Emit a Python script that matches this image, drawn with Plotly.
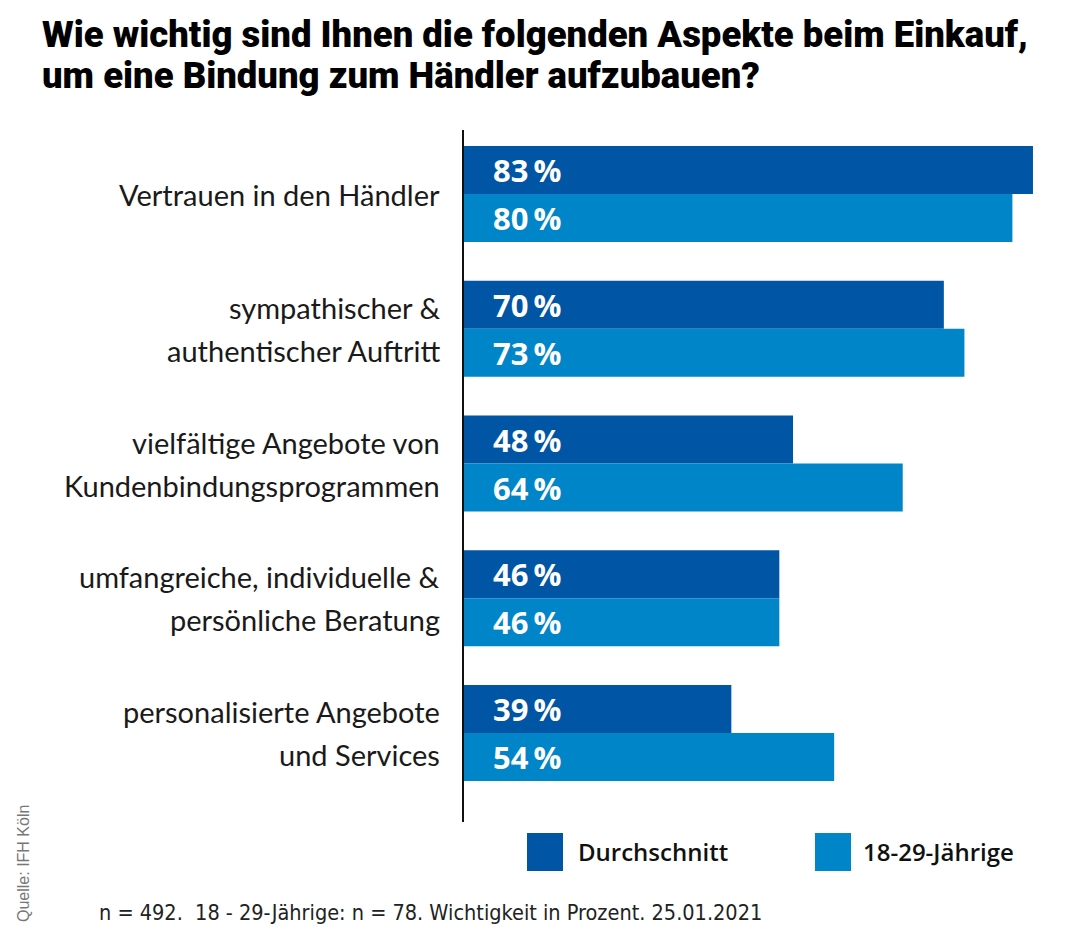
import plotly.graph_objects as go

# ---- data ----
categories = [
    "Vertrauen in den Händler",
    "sympathischer &\nauthentischer Auftritt",
    "vielfältige Angebote von\nKundenbindungsprogrammen",
    "umfangreiche, individuelle &\npersönliche Beratung",
    "personalisierte Angebote\nund Services",
]
durchschnitt = [83, 70, 48, 46, 39]
jaehrige_18_29 = [80, 73, 64, 46, 54]
series_names = ["Durchschnitt", "18-29-Jährige"]

title_lines = ["Wie wichtig sind Ihnen die folgenden Aspekte beim Einkauf,",
               "um eine Bindung zum Händler aufzubauen?"]
footnote = "n = 492.  18 - 29-Jährige: n = 78. Wichtigkeit in Prozent. 25.01.2021"
source = "Quelle: IFH Köln"

# ---- style ----
OFF = 8  # default page body margin
W, H = 1080 - 2 * OFF, 935 - 2 * OFF
# plot area in reference pixel coords: x 464..1064, y 130..822
ML = 464 - OFF
MT = 130 - OFF
MR = W - (1064 - OFF)
MB = H - (822 - OFF)
DARK = "#0055A4"
LIGHT = "#0085C8"
LABEL_FONT = "Lato, Roboto, sans-serif"
VALUE_FONT = "Open Sans, Noto Sans, sans-serif"
TITLE_FONT = "Roboto, sans-serif"
NOTE_FONT = "Liberation Sans Narrow, DejaVu Sans Condensed, Roboto, sans-serif"

pw, ph = W - ML - MR, H - MT - MB
def px_x(rx):
    return (rx - OFF - ML) / pw
def px_y(ry):
    return (H - MB - (ry - OFF)) / ph

ypos = list(range(len(categories)))

fig = go.Figure()
fig.add_trace(go.Bar(y=ypos, x=durchschnitt, orientation="h", name=series_names[0],
                     marker=dict(color=DARK, line=dict(width=0)), hoverinfo="skip"))
fig.add_trace(go.Bar(y=ypos, x=jaehrige_18_29, orientation="h", name=series_names[1],
                     marker=dict(color=LIGHT, line=dict(width=0)), hoverinfo="skip"))

annotations = []
# title (two lines, explicit spacing)
for line, ry in zip(title_lines, (34, 75)):
    annotations.append(dict(x=px_x(40), y=px_y(ry), xref="paper", yref="paper", text=line,
                            showarrow=False, xanchor="left", yanchor="middle", align="left",
                            font=dict(family=TITLE_FONT, size=36.5, color="black", weight=900)))
# category labels
for i, cat in enumerate(categories):
    lines = cat.split("\n")
    n = len(lines)
    for k, line in enumerate(lines):
        shift = (n - 1) / 2 * 43 - k * 43
        annotations.append(dict(x=0, y=i, xref="x", yref="y", text=line, showarrow=False,
                                xanchor="right", yanchor="middle", xshift=-22, yshift=shift,
                                font=dict(family=LABEL_FONT, size=29, color="#1a1a1a")))
# value labels
for i in ypos:
    for val, sh in ((durchschnitt[i], 24), (jaehrige_18_29[i], -24)):
        annotations.append(dict(x=0, y=i, xref="x", yref="y", text=f"{val}\u2009%",
                                showarrow=False, xanchor="left", yanchor="middle",
                                xshift=27, yshift=sh,
                                font=dict(family=VALUE_FONT, size=31, color="white", weight="bold")))

# legend
shapes = []
for name, color, sx, tx in ((series_names[0], DARK, 527, 576), (series_names[1], LIGHT, 815, 861)):
    shapes.append(dict(type="rect", xref="paper", yref="paper",
                       x0=px_x(sx), x1=px_x(sx + 36),
                       y0=px_y(871), y1=px_y(833),
                       fillcolor=color, line=dict(width=0)))
    annotations.append(dict(x=px_x(tx), y=px_y(851), xref="paper", yref="paper",
                            text=name, showarrow=False, xanchor="left", yanchor="middle",
                            font=dict(family=VALUE_FONT, size=24, color="#111111", weight=600)))

# footnote and source
annotations.append(dict(x=px_x(97), y=px_y(912), xref="paper", yref="paper",
                        text=footnote, showarrow=False, xanchor="left", yanchor="middle",
                        font=dict(family=NOTE_FONT, size=21.5, color="#222222")))
annotations.append(dict(x=px_x(23), y=px_y(864), xref="paper", yref="paper",
                        text=source, showarrow=False, xanchor="center", yanchor="middle",
                        textangle=-90,
                        font=dict(family="Liberation Sans, Arial, sans-serif", size=16, color="#777777")))

fig.update_layout(
    width=W, height=H,
    margin=dict(l=ML, r=MR, t=MT, b=MB),
    paper_bgcolor="white", plot_bgcolor="white",
    barmode="group", bargap=0.2875, bargroupgap=0,
    showlegend=False,
    xaxis=dict(range=[0, pw / 6.855], showgrid=False, zeroline=False,
               showticklabels=False, showline=False, fixedrange=True),
    yaxis=dict(range=[len(categories) - 1 + 0.66, -0.475], showgrid=False, zeroline=False,
               showticklabels=False, showline=True, linecolor="#111111", linewidth=2,
               ticks="", fixedrange=True),
    annotations=annotations,
    shapes=shapes,
)

fig.write_html("out.html")
